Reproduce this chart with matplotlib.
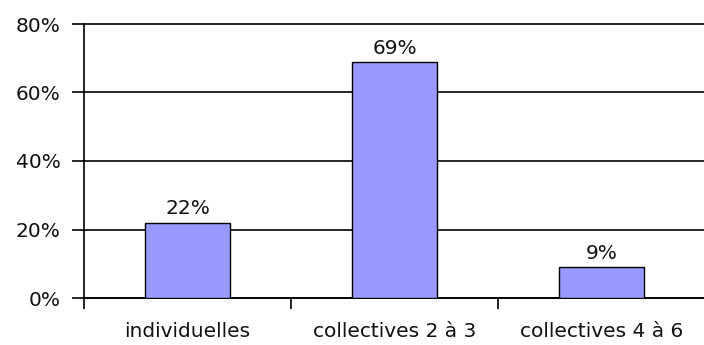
import numpy as np
import matplotlib
matplotlib.use("agg")
import matplotlib.pyplot as plt
from matplotlib.ticker import FixedLocator

categories = ["individuelles", "collectives 2 à 3", "collectives 4 à 6"]
values = [22, 69, 9]
y_ticks = [0, 20, 40, 60, 80]

plt.rcParams['font.family'] = ['DejaVu Sans']
fig = plt.figure(figsize=(7.04, 3.45), dpi=100)
ax = fig.add_axes([84/704, 47/345, 621/704, 274/345])

x = np.arange(len(categories))
ax.bar(x, values, width=0.41, color='#9999FF', edgecolor='black', linewidth=1.0, zorder=3)
for xi, v in zip(x, values):
    ax.annotate(f"{v}%", (xi, v), xytext=(0, 3), textcoords='offset points',
                ha='center', va='bottom', fontsize=14.5, color='#111111')

ax.set_xlim(-0.5, len(categories) - 0.5)
ax.set_ylim(0, 80)
ax.set_yticks(y_ticks)
ax.set_yticklabels([f"{t}%" for t in y_ticks])
ax.yaxis.grid(True, color='black', linewidth=1.2, zorder=0)
for gl in ax.get_ygridlines():
    gl.set_clip_on(False)

ax.set_xticks(x)
ax.set_xticklabels(categories)
ax.xaxis.set_minor_locator(FixedLocator(np.arange(-0.5, len(categories), 1.0)))
ax.tick_params(axis='x', which='major', length=0, pad=17, labelsize=14.5, labelcolor='#111111')
ax.tick_params(axis='x', which='minor', length=8, width=1.2, direction='out')
ax.tick_params(axis='y', length=9, width=1.2, direction='out', pad=8, labelsize=14.5, labelcolor='#111111')

for s in ['top', 'right']:
    ax.spines[s].set_visible(False)
for s in ['left', 'bottom']:
    ax.spines[s].set_linewidth(1.2)
    ax.spines[s].set_color('black')

fig.savefig("out.png", dpi=100)
